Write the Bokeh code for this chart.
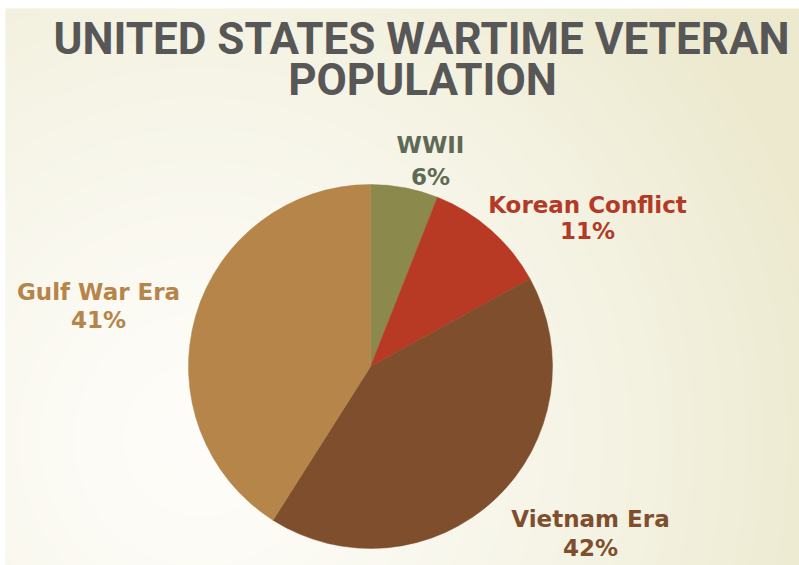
import numpy as np
from math import pi
from bokeh.plotting import figure
from bokeh.models import Range1d, ColumnDataSource
from bokeh.core.properties import value
from bokeh.embed import file_html
from bokeh.resources import INLINE

# ---- data ----
title_lines = ["UNITED STATES WARTIME VETERAN", "POPULATION"]
categories = ["WWII", "Korean Conflict", "Vietnam Era", "Gulf War Era"]
percents = [6, 11, 42, 41]

# ---- styles / layout ----
slice_colors = ["#8B8A4C", "#B83A24", "#7F4F2D", "#B5854A"]
label_colors = ["#5F6A56", "#B23A27", "#7F4F2D", "#B5854A"]
# label anchor (reference pixel coords: center x, name center y, pct center y)
label_pos = [(430, 144, 176), (587, 204, 230), (590, 518, 547), (98, 291, 319)]

PW, PH = 799, 565
BL, BT = 5, 8  # white border left / top
W, H = PW - BL, PH - BT


def dx(x):
    return x - BL


def dy(y):
    return PH - y


p = figure(width=PW, height=PH, output_backend="svg", toolbar_location=None,
           x_range=Range1d(0, W), y_range=Range1d(0, H),
           x_axis_location=None, y_axis_location=None,
           min_border_left=BL, min_border_top=BT, min_border_right=0, min_border_bottom=0,
           outline_line_color=None)
p.grid.visible = False
p.background_fill_color = "#F8F6EA"
p.border_fill_color = "#FFFFFF"

# background radial gradient
ny, nx = H, W
yy, xx = np.mgrid[0:ny, 0:nx]
cx, cy = dx(200), dy(440)
d = np.sqrt((xx - cx) ** 2 + (yy - cy) ** 2) / 660.0
t = np.clip(d, 0, 1) ** 1.4
c0 = np.array([254, 253, 249])
c1 = np.array([236, 233, 206])
img = np.empty((ny, nx), dtype=np.uint32)
view = img.view(dtype=np.uint8).reshape((ny, nx, 4))
for k in range(3):
    view[:, :, k] = (c0[k] + (c1[k] - c0[k]) * t).astype(np.uint8)
view[:, :, 3] = 255
p.image_rgba(image=[img], x=0, y=0, dw=W, dh=H)

# pie
total = float(sum(percents))
cum = np.cumsum([0] + percents) / total
starts = [pi / 2 - 2 * pi * cum[i] for i in range(len(percents))]
ends = [pi / 2 - 2 * pi * cum[i + 1] for i in range(len(percents))]
src = ColumnDataSource(dict(start=starts, end=ends, color=slice_colors, cat=categories))
p.wedge(x=dx(370), y=dy(366), radius=182, start_angle="start", end_angle="end",
        direction="clock", fill_color="color", line_color="color", line_width=0.5, source=src)

# title
title_font = value("Roboto")
for line, (tx, ty) in zip(title_lines, [(421, 38), (422, 79)]):
    p.text(x=[dx(tx)], y=[dy(ty)], text=[line], text_font=title_font,
           text_font_style="bold", text_font_size="44px", text_color="#575757",
           text_align="center", text_baseline="middle")

# labels
lab_font = value("DejaVu Sans")
for cat, pct, col, (lx, ly1, ly2) in zip(categories, percents, label_colors, label_pos):
    p.text(x=[dx(lx)], y=[dy(ly1)], text=[cat], text_font=lab_font, text_font_style="bold",
           text_font_size="23px", text_color=col, text_align="center", text_baseline="middle")
    p.text(x=[dx(lx)], y=[dy(ly2)], text=[f"{pct}%"], text_font=lab_font, text_font_style="bold",
           text_font_size="23px", text_color=col, text_align="center", text_baseline="middle")

open("out.html", "w").write(file_html(p, INLINE))
